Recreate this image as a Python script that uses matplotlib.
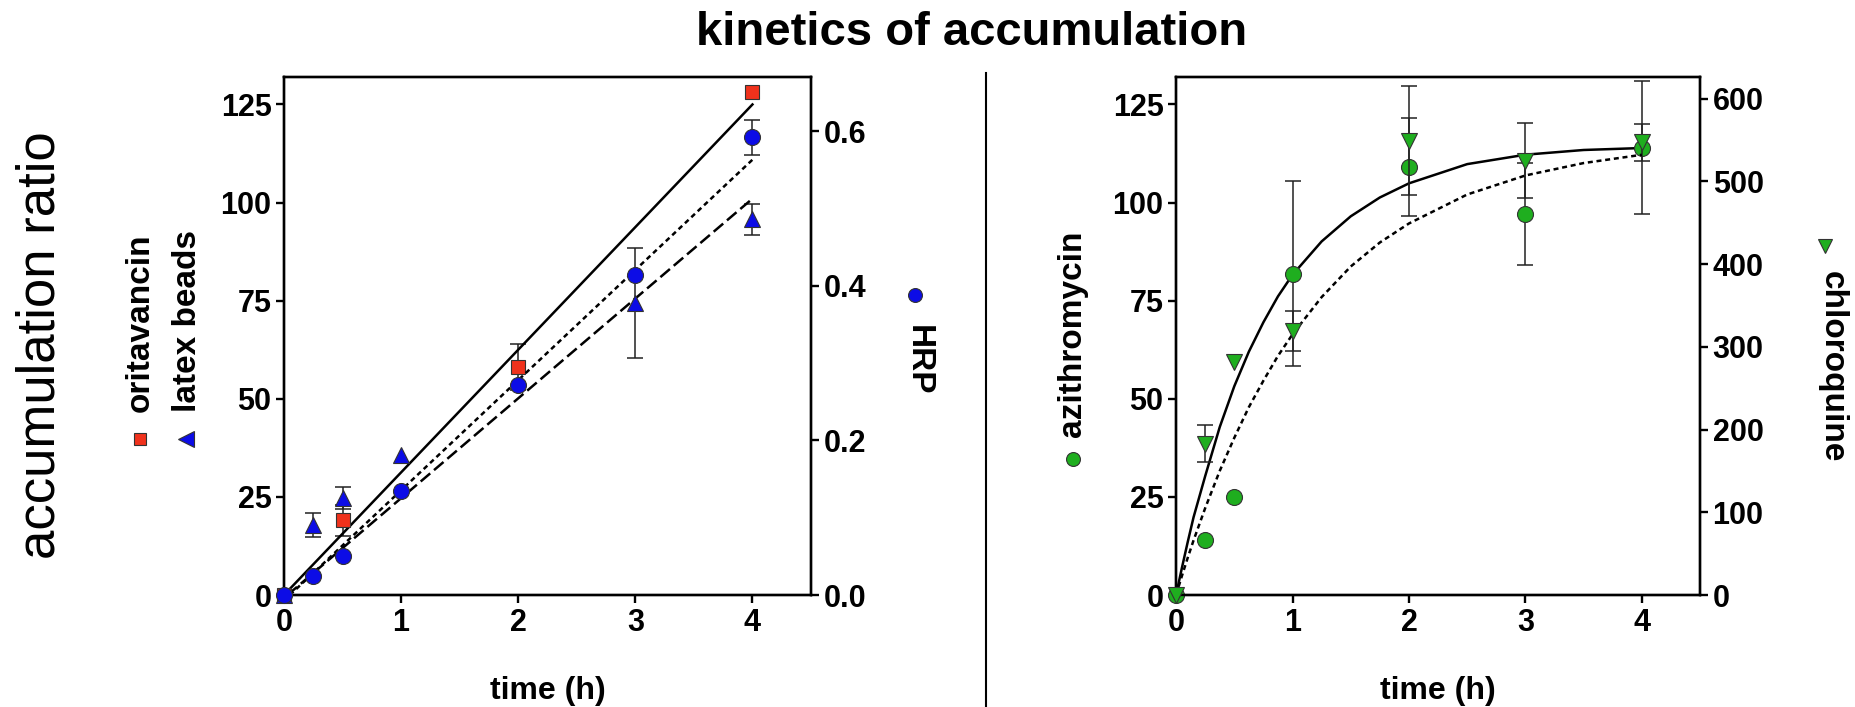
import matplotlib.pyplot as plt
from matplotlib.lines import Line2D

plt.rcParams['font.family'] = ['Liberation Sans', 'DejaVu Sans']
plt.rcParams['font.weight'] = 'bold'
plt.rcParams['axes.labelweight'] = 'bold'

# ---- left panel: oritavancin / latex beads (left axis), HRP (right axis)
ori_t = [0, 0.5, 2, 4]
ori_val = [0, 19.0, 58.1, 128.1]
ori_err = [0, 4.0, 5.8, 0]

latex_t = [0, 0.25, 0.5, 1, 3, 4]
latex_val = [0, 17.9, 24.7, 35.8, 74.4, 95.7]
latex_err = [0, 3.0, 2.8, 0, 14.0, 4.0]

hrp_t = [0, 0.25, 0.5, 1, 2, 3, 4]
hrp_val = [0, 0.025, 0.051, 0.134, 0.271, 0.414, 0.592]
hrp_err = [0, 0, 0, 0, 0, 0, 0.023]

# linear fits (end points)
ori_fit_t = [0, 4]
ori_fit = [0, 125]
latex_fit_t = [0.03, 4]
latex_fit = [0, 101]
hrp_fit_t = [0.05, 4]
hrp_fit = [0, 0.563]

# ---- right panel: azithromycin (left axis), chloroquine (right axis)
azi_t = [0, 0.25, 0.5, 1, 2, 3, 4]
azi_val = [0, 14.1, 24.9, 81.9, 109.0, 97.1, 114.0]
azi_err = [0, 0, 0, 23.6, 12.5, 13.0, 17.0]

chl_t = [0, 0.25, 0.5, 1, 2, 3, 4]
chl_val = [0, 183, 282, 319, 549, 525, 547]
chl_err = [0, 22, 0, 24, 66, 45, 22]

# fitted curves
curve_t = [0, 0.05, 0.1, 0.15, 0.25, 0.375, 0.5, 0.625, 0.75, 0.875, 1,
           1.25, 1.5, 1.75, 2, 2.5, 3, 3.5, 4]
azi_curve = [0, 6.9, 13.5, 19.8, 30.3, 42.8, 53.2, 62.0, 69.5, 76.1, 81.6,
             90.1, 96.5, 101.3, 104.9, 109.8, 112.2, 113.4, 113.9]
chl_curve = [0, 23, 45, 66, 105, 150, 190, 227, 259, 289, 315,
             360, 397, 426, 449, 484, 507, 522, 532]

RED = '#f0321c'
BLUE = '#0c0ce6'
GREEN = '#1fae1f'


def style_axis(ax):
    for sp in ax.spines.values():
        sp.set_linewidth(1.7)
    ax.tick_params(direction='out', length=6, width=1.7, labelsize=22, pad=3)


def points(ax, t, v, err, marker, color, ms):
    # error bars only where there is an error
    et = [a for a, e in zip(t, err) if e > 0]
    ev = [b for b, e in zip(v, err) if e > 0]
    ee = [e for e in err if e > 0]
    if ee:
        ax.errorbar(et, ev, yerr=ee, fmt='none', ecolor='#222222', elinewidth=1.1,
                    capsize=5.5, capthick=1.1, zorder=2)
    ax.plot(t, v, marker, ms=ms, mfc=color, mec='#333333', mew=0.8,
            linestyle='none', zorder=4, clip_on=False)


fig = plt.figure(figsize=(18.55, 7.07), dpi=100)

# left panel
ax1 = fig.add_axes([0.1531, 0.1584, 0.2841, 0.7327])
ax1b = ax1.twinx()
ax1.plot(ori_fit_t, ori_fit, color='black', lw=1.8, zorder=3)
ax1.plot(latex_fit_t, latex_fit, color='black', lw=1.8, linestyle=(0, (5, 2)), zorder=3)
ax1b.plot(hrp_fit_t, hrp_fit, color='black', lw=1.8, linestyle=(0, (2, 1.5)), zorder=3)
points(ax1, ori_t, ori_val, ori_err, 's', RED, 10.5)
points(ax1, latex_t, latex_val, latex_err, '^', BLUE, 12)
points(ax1b, hrp_t, hrp_val, hrp_err, 'o', BLUE, 11.5)
ax1.set_xlim(0, 4.5)
ax1.set_ylim(0, 132)
ax1b.set_ylim(0, 0.670)
ax1.set_xticks([0, 1, 2, 3, 4])
ax1.set_yticks([0, 25, 50, 75, 100, 125])
ax1b.set_yticks([0, 0.2, 0.4, 0.6])
ax1b.set_yticklabels(['0.0', '0.2', '0.4', '0.6'])
ax1.set_xlabel('time (h)', fontsize=23, fontweight='bold', labelpad=28)
for a in (ax1, ax1b):
    style_axis(a)

# right panel
ax2 = fig.add_axes([0.634, 0.1584, 0.2825, 0.7327])
ax2b = ax2.twinx()
ax2.plot(curve_t, azi_curve, color='black', lw=1.8, zorder=3)
ax2b.plot(curve_t, chl_curve, color='black', lw=1.8, linestyle=(0, (2, 1.5)), zorder=3)
points(ax2, azi_t, azi_val, azi_err, 'o', GREEN, 11.5)
points(ax2b, chl_t, chl_val, chl_err, 'v', GREEN, 12)
ax2.set_xlim(0, 4.5)
ax2.set_ylim(0, 132)
ax2b.set_ylim(0, 626)
ax2.set_xticks([0, 1, 2, 3, 4])
ax2.set_yticks([0, 25, 50, 75, 100, 125])
ax2b.set_yticks([0, 100, 200, 300, 400, 500, 600])
ax2.set_xlabel('time (h)', fontsize=23, fontweight='bold', labelpad=28)
for a in (ax2, ax2b):
    style_axis(a)

# titles and side labels
fig.text(0.524, 0.953, 'kinetics of accumulation', fontsize=34, ha='center', va='center')
fig.text(0.022, 0.512, 'accumulation ratio', fontsize=38, fontweight='normal',
         rotation=90, ha='center', va='center')

fig.text(0.0755, 0.4173, 'oritavancin', fontsize=24, rotation=90, ha='center', va='bottom')
fig.add_artist(Line2D([0.0755], [0.379], marker='s', ms=9, mfc=RED, mec='#333333',
                      mew=0.8, transform=fig.transFigure))
fig.text(0.1013, 0.4173, 'latex beads', fontsize=24, rotation=90, ha='center', va='bottom')
fig.add_artist(Line2D([0.1003], [0.379], marker='<', ms=11, mfc=BLUE, mec='#333333',
                      mew=0.8, transform=fig.transFigure))

fig.add_artist(Line2D([0.4933], [0.5827], marker='o', ms=10, mfc=BLUE, mec='#333333',
                      mew=0.8, transform=fig.transFigure))
fig.text(0.4948, 0.5403, 'HRP', fontsize=24, rotation=-90, ha='center', va='top')

fig.text(0.5784, 0.3819, 'azithromycin', fontsize=24, rotation=90, ha='center', va='bottom')
fig.add_artist(Line2D([0.5784], [0.3508], marker='o', ms=10, mfc=GREEN, mec='#333333',
                      mew=0.8, transform=fig.transFigure))

fig.add_artist(Line2D([0.9838], [0.652], marker='v', ms=10, mfc=GREEN, mec='#333333',
                      mew=0.8, transform=fig.transFigure))
fig.text(0.9876, 0.6167, 'chloroquine', fontsize=24, rotation=-90, ha='center', va='top')

# divider between panels
fig.add_artist(Line2D([0.5315, 0.5315], [0.0, 0.897], color='black', lw=1.5,
                      transform=fig.transFigure))

fig.savefig('out.png', dpi=100)
